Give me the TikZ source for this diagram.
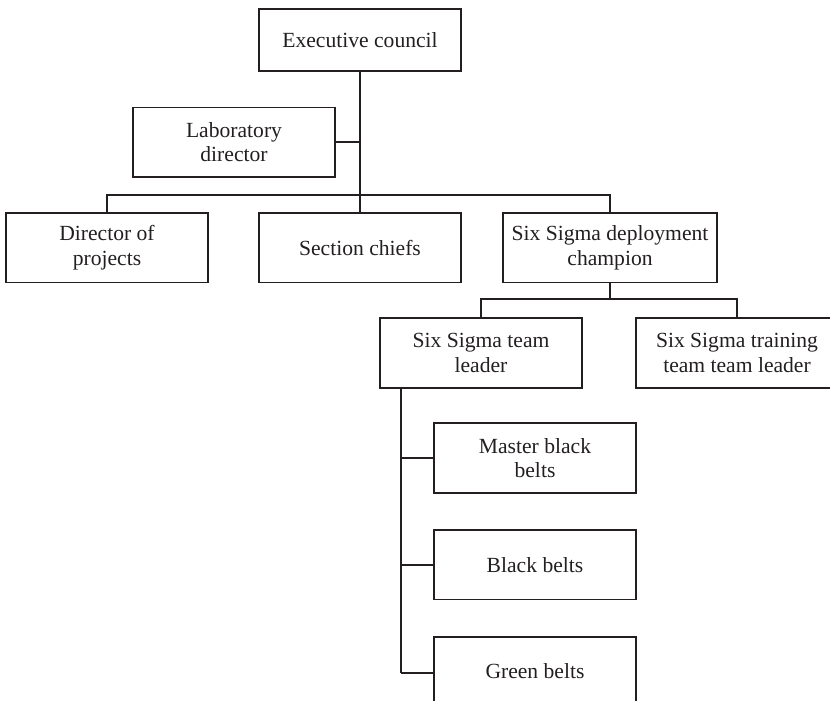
\documentclass[tikz,border=0pt]{standalone}
\usepackage{fontspec}
\setmainfont{Liberation Serif}
\definecolor{ink}{HTML}{231F20}
\begin{document}
\begin{tikzpicture}[x=1pt,y=-1pt,
  box/.style={draw=ink,line width=1.8pt,text=ink,align=center,inner sep=0pt,
    minimum width=202pt,minimum height=69.5pt,font=\fontsize{21.6}{24.5}\selectfont},
  conn/.style={draw=ink,line width=1.8pt}]
\clip (0,0) rectangle (830,701);
\node[box,minimum height=61.4pt] (exec) at (360,40) {Executive council};
\node[box] (lab) at (234,142.3) {Laboratory\\director};
\node[box] (dir) at (107,247.7) {Director of\\projects};
\node[box] (sec) at (360,247.7) {Section chiefs};
\node[box,minimum width=214pt] (champ) at (610,247.7) {Six Sigma deployment\\champion};
\node[box] (team) at (481,353) {Six Sigma team\\leader};
\node[box] (train) at (737,353) {Six Sigma training\\team team leader};
\node[box] (mbb) at (535,458) {Master black\\belts};
\node[box] (bb) at (535,564.7) {Black belts};
\node[box] (gb) at (535,671.4) {Green belts};
\coordinate (bus1) at (360,195);
\coordinate (bus2) at (610,299);
\coordinate (tl) at (401,387.7);
\coordinate (tend) at (401,672.7);
\draw[conn] (exec.south) -- (bus1);
\draw[conn] (lab.east) -- (lab.east -| bus1);
\draw[conn] (dir.north) |- (bus1) -| (champ.north);
\draw[conn] (sec.north) -- (sec.north |- bus1);
\draw[conn] (champ.south) -- (bus2);
\draw[conn] (team.north) |- (bus2) -| (train.north);
\draw[conn] (tl) -- (tend);
\draw[conn] (mbb.west) -- (mbb.west -| tl);
\draw[conn] (bb.west) -- (bb.west -| tl);
\draw[conn] (tend) -- (tend -| gb.west);
\end{tikzpicture}
\end{document}
